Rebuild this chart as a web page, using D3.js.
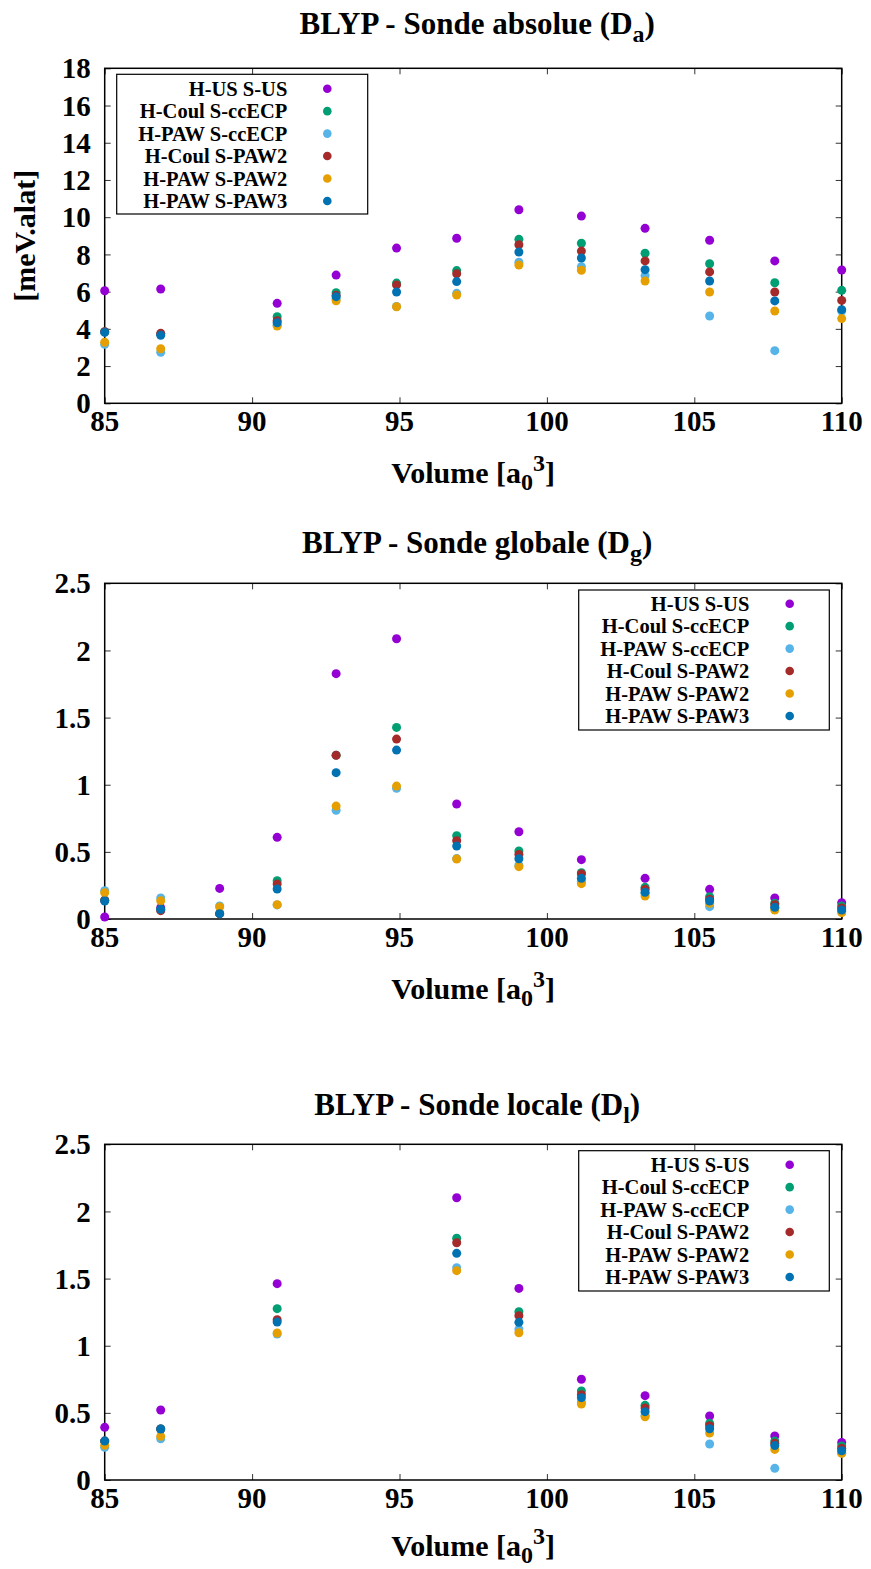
<!DOCTYPE html>
<html><head><meta charset="utf-8">
<script src="https://cdn.jsdelivr.net/npm/d3@7"></script>
<style>
html,body{margin:0;padding:0;background:#fff;}
</style></head>
<body><svg id="c" width="871" height="1569"></svg>
<script>
// ---- data ----
const volumes = [85.0, 86.9, 88.9, 90.85, 92.85, 94.9, 96.94, 99.05, 101.17, 103.33, 105.52, 107.73, 110.0];
const seriesNames = ["H-US S-US", "H-Coul S-ccECP", "H-PAW S-ccECP", "H-Coul S-PAW2", "H-PAW S-PAW2", "H-PAW S-PAW3"];
const seriesColors = ["#9400d3", "#009e73", "#56b4e9", "#a52a2a", "#e69f00", "#0072b2"];

// Sonde absolue (Da)
const daUsUs     = [6.05, 6.14, null, 5.37, 6.89, 8.34, 8.87, 10.40, 10.06, 9.40, 8.76, 7.65, 7.16];
const daCoulCc   = [3.85, 3.72, null, 4.65, 5.94, 6.46, 7.13, 8.81, 8.60, 8.06, 7.50, 6.48, 6.07];
const daPawCc    = [3.17, 2.74, null, 4.20, 5.60, 5.20, 5.91, 7.58, 7.34, 6.86, 4.69, 2.83, 4.96];
const daCoulPaw2 = [3.85, 3.76, null, 4.44, 5.80, 6.36, 6.96, 8.52, 8.18, 7.65, 7.06, 5.98, 5.53];
const daPawPaw2  = [3.28, 2.93, null, 4.15, 5.51, 5.19, 5.82, 7.43, 7.15, 6.57, 5.98, 4.96, 4.55];
const daPawPaw3  = [3.81, 3.65, null, 4.33, 5.73, 5.98, 6.54, 8.13, 7.81, 7.18, 6.57, 5.50, 5.03];

// Sonde globale (Dg)
const dgUsUs     = [0.015, 0.084, 0.228, 0.608, 1.827, 2.087, 0.856, 0.650, 0.442, 0.303, 0.221, 0.156, 0.121];
const dgCoulCc   = [0.140, 0.070, 0.040, 0.285, 1.220, 1.427, 0.620, 0.506, 0.345, 0.236, 0.166, 0.117, 0.097];
const dgPawCc    = [0.210, 0.156, 0.097, 0.105, 0.810, 0.973, 0.450, 0.400, 0.280, 0.190, 0.092, 0.080, 0.057];
const dgCoulPaw2 = [0.140, 0.062, 0.040, 0.260, 1.219, 1.340, 0.583, 0.480, 0.335, 0.221, 0.147, 0.107, 0.082];
const dgPawPaw2  = [0.196, 0.136, 0.090, 0.107, 0.841, 0.990, 0.447, 0.390, 0.263, 0.171, 0.117, 0.067, 0.047];
const dgPawPaw3  = [0.134, 0.072, 0.040, 0.223, 1.090, 1.258, 0.543, 0.449, 0.303, 0.199, 0.134, 0.087, 0.067];

// Sonde locale (Dl)
const dlUsUs     = [0.392, 0.521, null, 1.462, null, null, 2.102, 1.427, 0.750, 0.628, 0.477, 0.328, 0.280];
const dlCoulCc   = [0.290, 0.380, null, 1.276, null, null, 1.800, 1.253, 0.663, 0.556, 0.422, 0.290, 0.253];
const dlPawCc    = [0.243, 0.307, null, 1.087, null, null, 1.581, 1.124, 0.580, 0.480, 0.268, 0.087, 0.200];
const dlCoulPaw2 = [0.290, 0.380, null, 1.194, null, null, 1.767, 1.224, 0.635, 0.536, 0.404, 0.273, 0.236];
const dlPawPaw2  = [0.258, 0.325, null, 1.095, null, null, 1.559, 1.097, 0.566, 0.471, 0.350, 0.228, 0.199];
const dlPawPaw3  = [0.290, 0.380, null, 1.176, null, null, 1.688, 1.174, 0.613, 0.509, 0.382, 0.256, 0.218];

const xTicks = [85, 90, 95, 100, 105, 110];
const yTicksA = [0, 2, 4, 6, 8, 10, 12, 14, 16, 18];
const yTicksG = [0, 0.5, 1, 1.5, 2, 2.5];

// ---- layout ----
const FONT = "'Liberation Serif', 'Times New Roman', Times, serif";
const svg = d3.select("#c");
const L = 104.7, R = 841.7;
const panels = [
  {title:"BLYP - Sonde absolue (D", sub:"a", titleY:34, top:68.3, bottom:403.3, dom:[0,18], ticks:yTicksA,
   series:[daUsUs, daCoulCc, daPawCc, daCoulPaw2, daPawPaw2, daPawPaw3], ylabel:"[meV.alat]", xlabOff:80,
   legend:{x1:116.7, x2:367.7, y1:74.3, y2:214, textX:287.3, markX:327.3, row0:88.7}},
  {title:"BLYP - Sonde globale (D", sub:"g", titleY:553, top:583.3, bottom:919, dom:[0,2.5], ticks:yTicksG,
   series:[dgUsUs, dgCoulCc, dgPawCc, dgCoulPaw2, dgPawPaw2, dgPawPaw3], ylabel:null, xlabOff:80,
   legend:{x1:578.7, x2:829.3, y1:590, y2:730, textX:749.3, markX:789.7, row0:603.7}},
  {title:"BLYP - Sonde locale (D", sub:"l", titleY:1115, top:1144.3, bottom:1480, dom:[0,2.5], ticks:yTicksG,
   series:[dlUsUs, dlCoulCc, dlPawCc, dlCoulPaw2, dlPawPaw2, dlPawPaw3], ylabel:null, xlabOff:76,
   legend:{x1:578.7, x2:829.3, y1:1150.7, y2:1291, textX:749.3, markX:789.7, row0:1164.7}}
];

const x = d3.scaleLinear().domain([85,110]).range([L,R]);

function txt(sel){ return sel.style("font-family",FONT).style("font-weight","bold").attr("fill","#000"); }

panels.forEach(p => {
  const y = d3.scaleLinear().domain(p.dom).range([p.bottom, p.top]);
  const g = svg.append("g");
  const tl = 6;

  const axB = d3.axisBottom(x).tickValues(xTicks).tickSize(-tl).tickFormat("");
  const axT = d3.axisTop(x).tickValues(xTicks).tickSize(-tl).tickFormat("");
  const axL = d3.axisLeft(y).tickValues(p.ticks).tickSize(-tl).tickFormat("");
  const axR = d3.axisRight(y).tickValues(p.ticks).tickSize(-tl).tickFormat("");
  [[axB,`translate(0,${p.bottom})`],[axT,`translate(0,${p.top})`],[axL,`translate(${L},0)`],[axR,`translate(${R},0)`]].forEach(([a,t])=>{
    const ag = g.append("g").attr("transform",t).call(a);
    ag.select(".domain").remove();
    ag.selectAll("text").remove();
    ag.selectAll("line").attr("stroke","#333").attr("stroke-width",1);
  });

  g.append("rect").attr("x",L).attr("y",p.top).attr("width",R-L).attr("height",p.bottom-p.top)
    .attr("fill","none").attr("stroke","#000").attr("stroke-width",1.5);

  txt(g.selectAll(".xl").data(xTicks).enter().append("text")
    .attr("x",d=>x(d)).attr("y",p.bottom+28).attr("text-anchor","middle")
    .attr("font-size",29).text(d=>d));
  txt(g.selectAll(".yl").data(p.ticks).enter().append("text")
    .attr("x",L-14).attr("y",d=>y(d)).attr("dy","0.35em").attr("text-anchor","end")
    .attr("font-size",29).text(d=>d));

  const xl = txt(g.append("text").attr("x",(L+R)/2).attr("y",p.bottom+p.xlabOff).attr("text-anchor","middle").attr("font-size",30));
  xl.append("tspan").text("Volume [a");
  xl.append("tspan").attr("font-size",24).attr("dy",7).text("0");
  xl.append("tspan").attr("font-size",24).attr("dy",-19).text("3");
  xl.append("tspan").attr("dy",12).text("]");

  if (p.ylabel) {
    txt(g.append("text").attr("transform",`translate(35,${(p.top+p.bottom)/2}) rotate(-90)`)
      .attr("text-anchor","middle").attr("font-size",30).text(p.ylabel));
  }

  const t = txt(g.append("text").attr("x",(L+R)/2+4).attr("y",p.titleY).attr("text-anchor","middle").attr("font-size",31));
  t.append("tspan").text(p.title);
  t.append("tspan").attr("font-size",24).attr("dy",8).text(p.sub);
  t.append("tspan").attr("dy",-8).text(")");

  const lg = p.legend;
  g.append("rect").attr("x",lg.x1).attr("y",lg.y1).attr("width",lg.x2-lg.x1).attr("height",lg.y2-lg.y1)
    .attr("fill","#fff").attr("stroke","#000").attr("stroke-width",1.2);
  seriesNames.forEach((n,i)=>{
    const yy = lg.row0 + i*22.45;
    txt(g.append("text").attr("x",lg.textX).attr("y",yy).attr("dy","0.35em").attr("text-anchor","end")
      .attr("font-size",20.5).text(n));
    g.append("circle").attr("cx",lg.markX).attr("cy",yy).attr("r",4.3).attr("fill",seriesColors[i]);
  });

  p.series.forEach((vals,i)=>{
    const pts = volumes.map((v,j)=>({v, val: vals[j]})).filter(d=>d.val!==null);
    g.append("g").selectAll("circle").data(pts).enter().append("circle")
      .attr("cx",d=>x(d.v)).attr("cy",d=>y(d.val)).attr("r",4.5).attr("fill",seriesColors[i]);
  });
});
</script></body></html>
